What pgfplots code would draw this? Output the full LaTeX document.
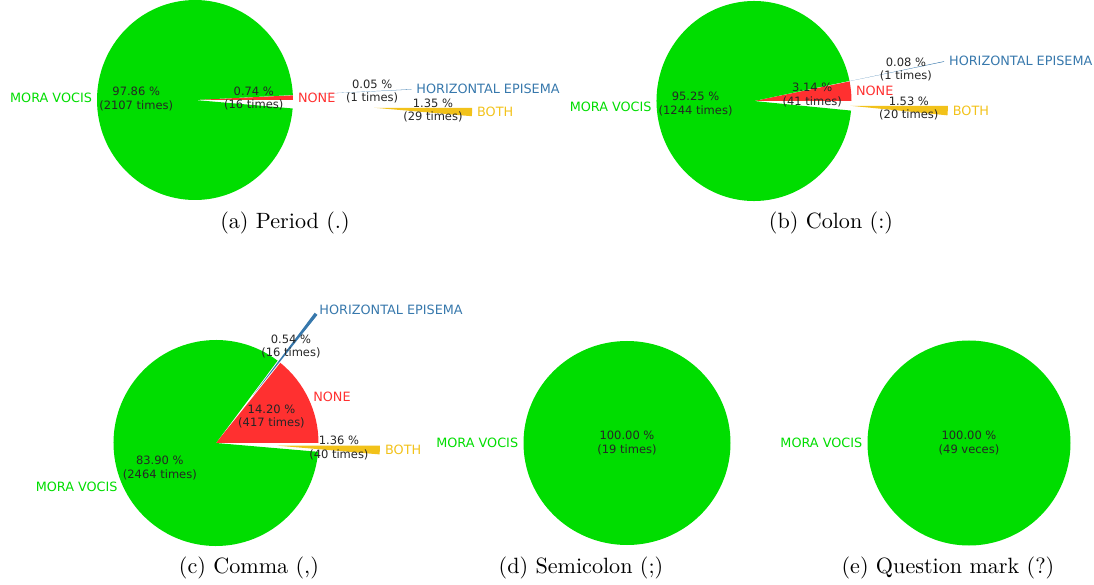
\documentclass[border=0pt]{standalone}
\usepackage{pgfplots}
\usepackage{pgfplotstable}
\pgfplotsset{compat=1.18}
\usepackage{fontspec}
\newfontfamily\dv{DejaVu Sans}
\definecolor{cmora}{HTML}{00DD00}
\definecolor{cnone}{HTML}{FF3030}
\definecolor{che}{HTML}{3778AC}
\definecolor{cboth}{HTML}{F2C21A}
\definecolor{ctxt}{HTML}{262626}
\newcommand\labfont{\dv\fontsize{12.8bp}{15bp}\selectfont}
\newcommand\pctfont{\dv\fontsize{11.5bp}{13.6bp}\selectfont}

% pct = share in %, count = occurrences, explode = offset in radii
\pgfplotstableread[col sep=comma]{
pct,count,explode,color,label,unit
0.74,16,0,cnone,NONE,times
0.05,1,1.21,che,HORIZONTAL EPISEMA,times
97.86,2107,0,cmora,MORA VOCIS,times
1.35,29,1.83,cboth,BOTH,times
}\tabA
\pgfplotstableread[col sep=comma]{
pct,count,explode,color,label,unit
3.14,41,0,cnone,NONE,times
0.08,1,0.99,che,HORIZONTAL EPISEMA,times
95.25,1244,0,cmora,MORA VOCIS,times
1.53,20,0.99,cboth,BOTH,times
}\tabB
\pgfplotstableread[col sep=comma]{
pct,count,explode,color,label,unit
14.20,417,0,cnone,NONE,times
0.54,16,0.59,che,HORIZONTAL EPISEMA,times
83.90,2464,0,cmora,MORA VOCIS,times
1.36,40,0.6,cboth,BOTH,times
}\tabC
\pgfplotstableread[col sep=comma]{
pct,count,explode,color,label,unit
100.00,19,0,cmora,MORA VOCIS,times
}\tabD
\pgfplotstableread[col sep=comma]{
pct,count,explode,color,label,unit
100.00,49,0,cmora,MORA VOCIS,veces
}\tabE

% #1 cx, #2 cy, #3 rx, #4 ry, #5 pct distance, #6 table
\newcommand\drawpie[6]{%
  \pgfplotstablegetrowsof{#6}%
  \pgfmathtruncatemacro\nrows{\pgfplotsretval-1}%
  \xdef\cum{0}%
  \foreach \i in {0,...,\nrows}{%
    \pgfplotstablegetelem{\i}{pct}\of{#6}\let\sP\pgfplotsretval
    \pgfplotstablegetelem{\i}{explode}\of{#6}\let\sE\pgfplotsretval
    \pgfplotstablegetelem{\i}{color}\of{#6}\let\sC\pgfplotsretval
    \pgfmathsetmacro\aA{\cum*3.6}%
    \pgfmathsetmacro\aB{(\cum+\sP)*3.6}%
    \pgfmathsetmacro\aM{(\aA+\aB)/2}%
    \pgfmathsetmacro\ox{#1+\sE*#3*cos(\aM)}%
    \pgfmathsetmacro\oy{#2+\sE*#4*sin(\aM)}%
    \fill[color=\sC] (axis cs:\ox,\oy) -- ++(\aA:#3bp and #4bp)
      arc[start angle=\aA,end angle=\aB,x radius=#3bp,y radius=#4bp] -- cycle;
    \pgfmathparse{\cum+\sP}\xdef\cum{\pgfmathresult}%
  }%
  \xdef\cum{0}%
  \foreach \i in {0,...,\nrows}{%
    \pgfplotstablegetelem{\i}{pct}\of{#6}\let\sP\pgfplotsretval
    \pgfplotstablegetelem{\i}{count}\of{#6}\let\sN\pgfplotsretval
    \pgfplotstablegetelem{\i}{explode}\of{#6}\let\sE\pgfplotsretval
    \pgfplotstablegetelem{\i}{color}\of{#6}\let\sC\pgfplotsretval
    \pgfplotstablegetelem{\i}{label}\of{#6}\let\sL\pgfplotsretval
    \pgfplotstablegetelem{\i}{unit}\of{#6}\let\sU\pgfplotsretval
    \pgfmathsetmacro\aA{\cum*3.6}%
    \pgfmathsetmacro\aB{(\cum+\sP)*3.6}%
    \pgfmathsetmacro\aM{(\aA+\aB)/2}%
    \pgfmathsetmacro\lx{#1+(\sE+1.05)*#3*cos(\aM)}%
    \pgfmathsetmacro\ly{#2+(\sE+1.05)*#4*sin(\aM)}%
    \pgfmathsetmacro\px{#1+(\sE+#5)*#3*cos(\aM)}%
    \pgfmathsetmacro\py{#2+(\sE+#5)*#4*sin(\aM)}%
    \pgfmathsetmacro\sCos{cos(\aM)}%
    \ifdim\sCos pt>0pt\def\anc{west}\else\def\anc{east}\fi
    \node[anchor=\anc,text=\sC,font=\labfont,inner sep=0pt] at (axis cs:\lx,\ly) {\sL};
    \node[align=center,text=ctxt,font=\pctfont,inner sep=0pt] at (axis cs:\px,\py) {\sP\ \%\\(\sN\ \sU)};
    \pgfmathparse{\cum+\sP}\xdef\cum{\pgfmathresult}%
  }%
}

\begin{document}
\begin{tikzpicture}
\begin{axis}[
  x=1bp, y=1bp,
  xmin=0, xmax=1094, ymin=0, ymax=585,
  hide axis, clip=false,
  anchor=south west, at={(0,0)},
]
\pgfplotsextra{%
  \drawpie{195}{485}{98}{100}{0.6}{\tabA}%
  \drawpie{754}{484}{97.5}{100}{0.6}{\tabB}%
  \drawpie{216}{142}{102.5}{103}{0.6}{\tabC}%
  \drawpie{627}{142}{103.5}{102}{0}{\tabD}%
  \drawpie{969}{142}{101.5}{102.5}{0}{\tabE}%
}
\node at (axis cs:285,362) {\scalebox{2.22}{(a) Period (.)}};
\node at (axis cs:831,362) {\scalebox{2.22}{(b) Colon (:)}};
\node at (axis cs:249,17) {\scalebox{2.22}{(c) Comma (,)}};
\node at (axis cs:581,17) {\scalebox{2.22}{(d) Semicolon (;)}};
\node at (axis cs:948,17) {\scalebox{2.22}{(e) Question mark (?)}};
\end{axis}
\pgfresetboundingbox
\path[use as bounding box] (0,0) rectangle (1094bp,585bp);
\end{tikzpicture}
\end{document}
